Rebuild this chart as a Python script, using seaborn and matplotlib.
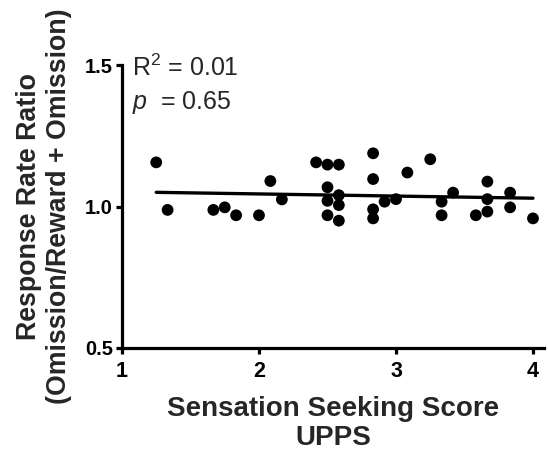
import numpy as np
import pandas as pd
import matplotlib
matplotlib.use("Agg")
import matplotlib.pyplot as plt
import seaborn as sns

# UPPS sensation seeking scores (12 items -> steps of 1/12) and response ratios
upps_score = [1.25, 1.333, 1.667, 1.75, 1.833, 2.0, 2.083, 2.167,
              2.417, 2.5, 2.583, 2.5, 2.583, 2.5, 2.583, 2.5, 2.583,
              2.833, 2.833, 2.833, 2.833, 2.917, 3.0, 3.083, 3.25,
              3.333, 3.333, 3.417, 3.583, 3.667, 3.667, 3.667,
              3.833, 3.833, 4.0]
rate_ratio = [1.156, 0.988, 0.988, 0.997, 0.969, 0.969, 1.09, 1.025,
              1.156, 1.148, 1.148, 1.068, 1.04, 1.02, 1.005, 0.969, 0.95,
              1.188, 1.097, 0.99, 0.958, 1.017, 1.026, 1.12, 1.167,
              1.017, 0.969, 1.049, 0.969, 1.088, 1.026, 0.982,
              1.049, 0.997, 0.958]

x_ticks = [1, 2, 3, 4]
y_ticks = [0.5, 1.0, 1.5]
y_tick_labels = ["0.5", "1.0", "1.5"]

df = pd.DataFrame({"score": upps_score, "ratio": rate_ratio})

sns.set_style("ticks")
plt.rcParams["font.family"] = ["Liberation Sans", "DejaVu Sans"]
plt.rcParams["mathtext.fontset"] = "custom"
plt.rcParams["mathtext.rm"] = "Liberation Sans"
plt.rcParams["mathtext.it"] = "Liberation Sans:italic"

fig = plt.figure(figsize=(5.48, 4.54), dpi=100)
ax = fig.add_axes([0.2226, 0.2335, 0.770, 0.6233])

sns.regplot(data=df, x="score", y="ratio", ax=ax, ci=None,
            scatter_kws=dict(s=72, color="black", edgecolor="none", alpha=1),
            line_kws=dict(color="black", lw=2.4))

ax.set_xlim(1, 4.08)
ax.set_ylim(0.5, 1.5)
ax.set_xticks(x_ticks)
ax.set_yticks(y_ticks)
ax.set_yticklabels(y_tick_labels)

for side in ["top", "right"]:
    ax.spines[side].set_visible(False)
for side in ["left", "bottom"]:
    ax.spines[side].set_linewidth(2.3)
    ax.spines[side].set_color("black")

ax.tick_params(axis="both", width=2.3, length=4.5, color="black",
               labelcolor="black")
ax.tick_params(axis="x", labelsize=15.5, pad=5)
ax.tick_params(axis="y", labelsize=14.5, pad=2)
for lab in ax.get_xticklabels() + ax.get_yticklabels():
    lab.set_fontweight("bold")

ax.set_xlabel("Sensation Seeking Score\nUPPS", fontsize=20,
              fontweight="bold", labelpad=10, linespacing=1.14)
ax.set_ylabel("Response Rate Ratio\n(Omission/Reward + Omission)", fontsize=19.3,
              fontweight="bold", labelpad=9, linespacing=1.23)

ax.text(1.073, 1.46, r"R$^2$ = 0.01", fontsize=18, va="baseline")
ax.text(1.073, 1.346, r"$p$  = 0.65", fontsize=18, va="baseline")

fig.savefig("out.png", dpi=100)
